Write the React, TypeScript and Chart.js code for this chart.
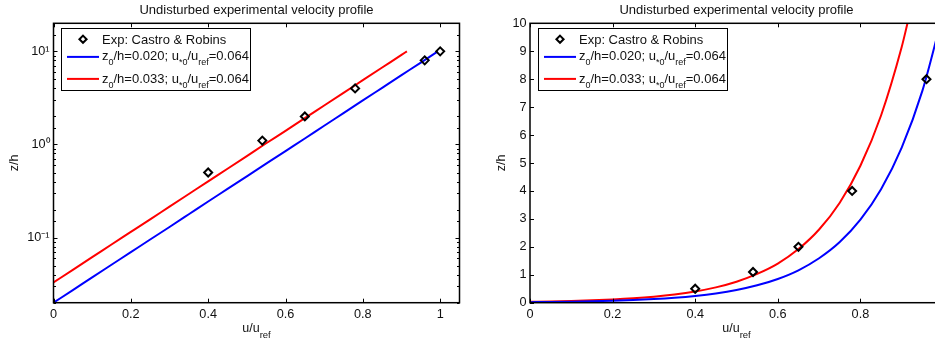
import React, { useEffect, useRef } from 'react';
import { Chart, registerables } from 'chart.js';

Chart.register(...registerables);

// ---- data ----
const expU = [0.4, 0.54, 0.65, 0.78, 0.96, 1.0];
const expZ = [0.5, 1.1, 2.0, 4.0, 8.0, 10.0];

const blueU = [0, 0.05, 0.1, 0.15, 0.2, 0.25, 0.3, 0.35, 0.4, 0.45, 0.5, 0.55, 0.6, 0.65, 0.7, 0.75, 0.8, 0.85, 0.9, 0.95, 0.994];
const blueZ = [0.02, 0.0273, 0.0374, 0.0511, 0.0698, 0.0954, 0.13, 0.178, 0.244, 0.333, 0.455, 0.622, 0.85, 1.16, 1.59, 2.17, 2.97, 4.06, 5.55, 7.58, 10.0];

const redU = [0, 0.05, 0.1, 0.15, 0.2, 0.25, 0.3, 0.35, 0.4, 0.45, 0.5, 0.55, 0.6, 0.65, 0.7, 0.75, 0.8, 0.85, 0.9, 0.914];
const redZ = [0.033, 0.0451, 0.0616, 0.0843, 0.115, 0.157, 0.215, 0.294, 0.402, 0.549, 0.751, 1.03, 1.4, 1.92, 2.62, 3.58, 4.9, 6.7, 9.15, 10.0];

const expLabel = 'Exp: Castro & Robins';
const blueLabel = 'z_{0}/h=0.020; u_{*0}/u_{ref}=0.064';
const redLabel = 'z_{0}/h=0.033; u_{*0}/u_{ref}=0.064';
const plotTitle = 'Undisturbed experimental velocity profile';
const xTitle = 'u/u_{ref}';
const yTitle = 'z/h';
const logExponents = [-1, 0, 1];
const logTickLabels = ['10\u207B\u00B9', '10\u2070', '10\u00B9'];

const FONT = "'Liberation Sans', Arial, Helvetica, sans-serif";
const TXT = '#111';

type Part = { t: string; sub: boolean };
function parseRich(s: string): Part[] {
  const parts: Part[] = [];
  const re = /_\{([^}]*)\}/g;
  let last = 0;
  let m: RegExpExecArray | null;
  while ((m = re.exec(s))) {
    if (m.index > last) parts.push({ t: s.slice(last, m.index), sub: false });
    parts.push({ t: m[1], sub: true });
    last = re.lastIndex;
  }
  if (last < s.length) parts.push({ t: s.slice(last), sub: false });
  return parts;
}

function drawRich(ctx: CanvasRenderingContext2D, s: string, x: number, y: number, size: number, subSize: number, subDy: number, align: 'left' | 'center') {
  const parts = parseRich(s);
  const fMain = `${size}px ${FONT}`;
  const fSub = `${subSize}px ${FONT}`;
  let total = 0;
  parts.forEach((p) => {
    ctx.font = p.sub ? fSub : fMain;
    total += ctx.measureText(p.t).width;
  });
  let cx = align === 'center' ? x - total / 2 : x;
  ctx.textAlign = 'left';
  ctx.textBaseline = 'alphabetic';
  ctx.fillStyle = TXT;
  parts.forEach((p) => {
    ctx.font = p.sub ? fSub : fMain;
    ctx.fillText(p.t, cx, p.sub ? y + subDy : y);
    cx += ctx.measureText(p.t).width;
  });
}

function isDecade(v: number) {
  const e = Math.log10(v);
  return Math.abs(e - Math.round(e)) < 1e-9;
}

const decorPlugin = {
  id: 'decor',
  afterDraw(chart: any) {
    const { ctx, chartArea: a } = chart;
    const xs = chart.scales.x;
    const ys = chart.scales.y;
    ctx.save();
    // inward tick marks on all four sides
    ctx.strokeStyle = '#000';
    ctx.lineWidth = 1;
    ctx.beginPath();
    xs.ticks.forEach((t: any) => {
      const p = Math.round(xs.getPixelForValue(t.value)) + 0.5;
      ctx.moveTo(p, a.bottom);
      ctx.lineTo(p, a.bottom - 4);
      ctx.moveTo(p, a.top);
      ctx.lineTo(p, a.top + 4);
    });
    ys.ticks.forEach((t: any) => {
      const major = ys.type !== 'logarithmic' || isDecade(t.value);
      const len = major ? 4 : 2.5;
      const p = Math.round(ys.getPixelForValue(t.value)) + 0.5;
      ctx.moveTo(a.left, p);
      ctx.lineTo(a.left + len, p);
      ctx.moveTo(a.right, p);
      ctx.lineTo(a.right - len, p);
    });
    ctx.stroke();
    ctx.lineWidth = 1.5;
    ctx.strokeRect(a.left, a.top, a.right - a.left, a.bottom - a.top);

    // legend box
    const bx = Math.round(a.left + 7.5) + 0.5;
    const by = Math.round(a.top + 5) + 0.5;
    const bw = 189;
    const bh = 62;
    ctx.fillStyle = '#fff';
    ctx.fillRect(bx, by, bw, bh);
    ctx.lineWidth = 1;
    ctx.strokeStyle = '#000';
    ctx.strokeRect(bx, by, bw, bh);
    const rowY = [10.7, 28.4, 50.4];
    const baseDy = [4.3, 3.5, 3.8];
    chart.data.datasets.forEach((ds: any, i: number) => {
      const y = by + rowY[i];
      if (ds.showLine === false) {
        const cx = bx + 21.5;
        const r = 3.6;
        ctx.beginPath();
        ctx.moveTo(cx, y - r);
        ctx.lineTo(cx + r, y);
        ctx.lineTo(cx, y + r);
        ctx.lineTo(cx - r, y);
        ctx.closePath();
        ctx.lineWidth = 2;
        ctx.strokeStyle = ds.borderColor;
        ctx.stroke();
      } else {
        ctx.beginPath();
        ctx.moveTo(bx + 5.5, y);
        ctx.lineTo(bx + 37.5, y);
        ctx.lineWidth = 2;
        ctx.strokeStyle = ds.borderColor;
        ctx.stroke();
      }
      drawRich(ctx, ds.label, bx + 40.5, y + baseDy[i], 13, 9, 5, 'left');
    });

    // x axis title with subscript
    drawRich(ctx, xTitle, (a.left + a.right) / 2, a.bottom + 29, 12.5, 9.5, 6, 'center');
    ctx.restore();
  },
};

function makeConfig(log: boolean): any {
  const geo = log
    ? { padLeft: 0, padRight: 10.5, yWidth: 53.5, xMax: 1.05 }
    : { padLeft: 21.7, padRight: 12, yWidth: 43.3, xMax: 1.0 };
  const toXY = (us: number[], zs: number[]) => us.map((u, i) => ({ x: u, y: zs[i] }));
  return {
    type: 'scatter',
    data: {
      datasets: [
        {
          label: expLabel,
          data: toXY(expU, expZ),
          showLine: false,
          pointStyle: 'rectRot',
          pointRadius: 4,
          pointBorderWidth: 2,
          borderColor: '#000',
          pointBorderColor: '#000',
          backgroundColor: 'rgba(0,0,0,0)',
          pointBackgroundColor: 'rgba(0,0,0,0)',
        },
        {
          label: blueLabel,
          data: toXY(blueU, blueZ),
          showLine: true,
          borderColor: '#0000ff',
          borderWidth: 2,
          pointRadius: 0,
          cubicInterpolationMode: 'monotone',
        },
        {
          label: redLabel,
          data: toXY(redU, redZ),
          showLine: true,
          borderColor: '#ff0000',
          borderWidth: 2,
          pointRadius: 0,
          cubicInterpolationMode: 'monotone',
        },
      ],
    },
    options: {
      responsive: false,
      animation: false,
      devicePixelRatio: 1,
      layout: { padding: { left: geo.padLeft, right: geo.padRight, top: 0, bottom: 0 } },
      plugins: {
        legend: { display: false },
        tooltip: { enabled: false },
        title: {
          display: true,
          text: plotTitle,
          fullSize: false,
          color: TXT,
          font: { family: FONT, size: 13, weight: 'normal', lineHeight: 1.2 },
          padding: { top: 2.5, bottom: 5.2 },
        },
      },
      scales: {
        x: {
          type: 'linear',
          min: 0,
          max: geo.xMax,
          grid: { display: false, drawTicks: false },
          border: { display: false },
          ticks: {
            stepSize: 0.2,
            includeBounds: false,
            autoSkip: false,
            maxRotation: 0,
            padding: 4,
            color: TXT,
            font: { family: FONT, size: 12.7 },
            callback: (v: any) => Number(v).toFixed(1).replace(/\.0$/, ''),
          },
          afterFit: (s: any) => {
            s.height = 44.3;
          },
        },
        y: log
          ? {
              type: 'logarithmic',
              min: 0.02,
              max: 20,
              grid: { display: false, drawTicks: false },
              border: { display: false },
              title: { display: true, text: yTitle, color: TXT, font: { family: FONT, size: 12.5 }, padding: { top: 7.5, bottom: 0 } },
              ticks: {
                autoSkip: false,
                padding: 4,
                color: TXT,
                font: { family: FONT, size: 12.7 },
                callback: (v: any) => {
                  const val = Number(v);
                  if (!isDecade(val)) return '';
                  const idx = logExponents.indexOf(Math.round(Math.log10(val)));
                  return idx >= 0 ? logTickLabels[idx] : '';
                },
              },
              afterFit: (s: any) => {
                s.width = geo.yWidth;
              },
            }
          : {
              type: 'linear',
              min: 0,
              max: 10,
              grid: { display: false, drawTicks: false },
              border: { display: false },
              title: { display: true, text: yTitle, color: TXT, font: { family: FONT, size: 12.5 }, padding: { top: 7.5, bottom: 0 } },
              ticks: {
                stepSize: 1,
                autoSkip: false,
                padding: 3.5,
                color: TXT,
                font: { family: FONT, size: 12.7 },
              },
              afterFit: (s: any) => {
                s.width = geo.yWidth;
              },
            },
      },
    },
    plugins: [decorPlugin],
  };
}

export default function App() {
  const leftRef = useRef<HTMLCanvasElement>(null);
  const rightRef = useRef<HTMLCanvasElement>(null);
  useEffect(() => {
    const c1 = new Chart(leftRef.current as HTMLCanvasElement, makeConfig(true));
    const c2 = new Chart(rightRef.current as HTMLCanvasElement, makeConfig(false));
    return () => {
      c1.destroy();
      c2.destroy();
    };
  }, []);
  return (
    <div style={{ position: 'fixed', left: 0, top: 0, width: 935, height: 347, overflow: 'hidden', background: '#fff' }}>
      <canvas ref={leftRef} width={470} height={347} style={{ position: 'absolute', left: 0, top: 0, width: 470, height: 347 }} />
      <canvas ref={rightRef} width={490} height={347} style={{ position: 'absolute', left: 465, top: 0, width: 490, height: 347 }} />
    </div>
  );
}
